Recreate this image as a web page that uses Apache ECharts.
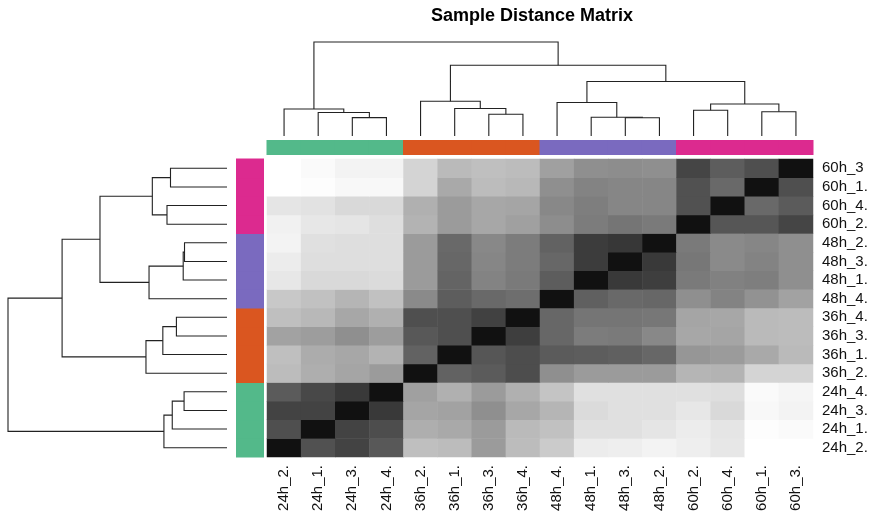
<!DOCTYPE html>
<html>
<head>
<meta charset="utf-8">
<title>Sample Distance Matrix</title>
<script src="https://cdn.jsdelivr.net/npm/echarts@6/dist/echarts.min.js"></script>
<style>
  html, body { margin: 0; padding: 0; background: #fff; }
  #chart { width: 873px; height: 516px; }
</style>
</head>
<body>
<div id="chart"></div>
<script>
// samples in leaf order (left -> right on top, bottom -> top on the side)
var colLabels = ['24h_2.', '24h_1.', '24h_3.', '24h_4.', '36h_2.', '36h_1.', '36h_3.', '36h_4.',
                 '48h_4.', '48h_1.', '48h_3.', '48h_2.', '60h_2.', '60h_4.', '60h_1.', '60h_3.'];
var rowLabels = ['24h_2.', '24h_1.', '24h_3.', '24h_4.', '36h_2.', '36h_1.', '36h_3.', '36h_4.',
                 '48h_4.', '48h_1.', '48h_3.', '48h_2.', '60h_2.', '60h_4.', '60h_1.', '60h_3'];

// annotation groups and their colours
var groupNames = ['24h', '36h', '48h', '60h'];
var groupColors = ['#53b98a', '#da5620', '#7a6abf', '#dc2a8f'];

// distance matrix (0 = identical, 100 = farthest), rows/cols in leaf order
var distances = [
  [0, 27, 21, 30, 73, 72, 58, 72, 78, 92, 93, 95, 93, 90, 100, 100],
  [26, 0, 21, 25, 66, 64, 58, 71, 74, 87, 87, 89, 92, 89, 99, 98],
  [21, 21, 0, 17, 62, 61, 53, 63, 69, 85, 87, 87, 90, 84, 97, 95],
  [31, 23, 17, 0, 60, 67, 58, 67, 75, 87, 87, 87, 87, 86, 98, 96],
  [72, 66, 62, 58, 0, 34, 31, 25, 53, 58, 58, 58, 69, 68, 82, 82],
  [73, 65, 63, 68, 34, 0, 29, 25, 31, 32, 33, 36, 56, 58, 64, 71],
  [61, 59, 53, 59, 30, 26, 0, 19, 36, 45, 44, 50, 63, 62, 71, 72],
  [73, 70, 63, 67, 26, 26, 20, 0, 36, 42, 42, 43, 62, 63, 71, 72],
  [77, 74, 69, 74, 51, 32, 37, 39, 0, 33, 37, 36, 53, 48, 54, 61],
  [90, 84, 84, 85, 58, 35, 48, 44, 32, 0, 17, 19, 44, 47, 46, 53],
  [92, 86, 86, 86, 58, 36, 49, 45, 36, 18, 0, 17, 43, 51, 48, 53],
  [95, 87, 86, 86, 58, 37, 50, 45, 34, 18, 16, 0, 44, 51, 49, 53],
  [94, 90, 89, 86, 68, 58, 63, 60, 52, 45, 42, 44, 0, 29, 29, 22],
  [89, 88, 84, 84, 67, 58, 63, 62, 50, 46, 49, 49, 27, 0, 37, 31],
  [100, 99, 97, 97, 82, 64, 72, 70, 53, 48, 49, 49, 27, 37, 0, 26],
  [100, 98, 95, 95, 82, 71, 73, 72, 60, 53, 52, 53, 22, 32, 26, 0]
];

// clustering: [child a, child b, merge height]; leaves are 0..15, merge k becomes node 16 + k
var merges = [
  [2, 3, 19.6],
  [1, 16, 25.0],
  [0, 17, 28.8],
  [6, 7, 23.1],
  [5, 19, 29.3],
  [4, 20, 37.0],
  [10, 11, 19.4],
  [9, 22, 20.0],
  [8, 23, 35.6],
  [12, 13, 27.4],
  [14, 15, 25.8],
  [25, 26, 34.1],
  [24, 27, 58.0],
  [21, 28, 75.3],
  [18, 29, 100]
];

var n = colLabels.length;

// heatmap cells
var cells = [];
for (var i = 0; i < n; i++) {
  for (var j = 0; j < n; j++) {
    cells.push([j, i, distances[i][j]]);
  }
}

// dendrogram links: [pos a, height a, pos b, height b, merge height]
var pos = [], hgt = [], links = [];
for (var k = 0; k < n; k++) { pos.push(k); hgt.push(0); }
merges.forEach(function (m) {
  links.push([pos[m[0]], hgt[m[0]], pos[m[1]], hgt[m[1]], m[2]]);
  pos.push((pos[m[0]] + pos[m[1]]) / 2);
  hgt.push(m[2]);
});

// annotation cells: [leaf index, group index]
var annot = colLabels.map(function (s, idx) {
  return [idx, groupNames.indexOf(s.substring(0, 3))];
});

function dendroItem(sideways) {
  return function (params, api) {
    var a = api.value(0), ha = api.value(1), b = api.value(2), hb = api.value(3), h = api.value(4);
    var pt = function (p, v) { return sideways ? api.coord([v, p]) : api.coord([p, v]); };
    return {
      type: 'polyline',
      shape: { points: [pt(a, ha), pt(a, h), pt(b, h), pt(b, hb)] },
      style: { stroke: '#222', lineWidth: 1.1, fill: null }
    };
  };
}

// one coloured block per leaf, slightly overlapping so no seams show
function annotItem(sideways) {
  return function (params, api) {
    var idx = api.value(0);
    var color = groupColors[api.value(1)];
    var p0 = sideways ? api.coord([0, idx - 0.5]) : api.coord([idx - 0.5, 0]);
    var p1 = sideways ? api.coord([1, idx + 0.5]) : api.coord([idx + 0.5, 1]);
    var x = Math.min(p0[0], p1[0]), y = Math.min(p0[1], p1[1]);
    var w = Math.abs(p1[0] - p0[0]), h = Math.abs(p1[1] - p0[1]);
    if (sideways) { y -= 0.5; h += 1; } else { x -= 0.5; w += 1; }
    return {
      type: 'rect',
      shape: { x: x, y: y, width: w, height: h },
      style: { fill: color }
    };
  };
}

var font = 'Liberation Sans, Arial, sans-serif';
var chart = echarts.init(document.getElementById('chart'));

var option = {
  animation: false,
  textStyle: { fontFamily: font },
  title: {
    text: 'Sample Distance Matrix',
    left: 431,
    top: 7,
    padding: 0,
    textStyle: { fontSize: 18, fontWeight: 'bold', color: '#000', fontFamily: font }
  },
  grid: [
    { left: 267, top: 159, width: 546, height: 298 },   // heatmap
    { left: 267, top: 42, width: 546, height: 94 },     // top dendrogram
    { left: 8, top: 159, width: 219, height: 298 },     // left dendrogram
    { left: 267, top: 140, width: 546, height: 15 },    // top annotation
    { left: 236, top: 159, width: 28, height: 298 }     // left annotation
  ],
  xAxis: [
    {
      gridIndex: 0, type: 'category', data: colLabels, position: 'bottom',
      axisLine: { show: false }, axisTick: { show: false }, splitLine: { show: false },
      axisLabel: { rotate: 90, margin: 8, fontSize: 15, color: '#111', fontFamily: font, interval: 0 }
    },
    { gridIndex: 1, type: 'value', min: -0.5, max: n - 0.5, show: false },
    { gridIndex: 2, type: 'value', min: 0, max: 100, inverse: true, show: false },
    { gridIndex: 3, type: 'value', min: -0.5, max: n - 0.5, show: false },
    { gridIndex: 4, type: 'value', min: 0, max: 1, show: false }
  ],
  yAxis: [
    {
      gridIndex: 0, type: 'category', data: rowLabels, position: 'right',
      axisLine: { show: false }, axisTick: { show: false }, splitLine: { show: false },
      axisLabel: { margin: 9, fontSize: 15, color: '#111', fontFamily: font, interval: 0 }
    },
    { gridIndex: 1, type: 'value', min: 0, max: 100, show: false },
    { gridIndex: 2, type: 'value', min: -0.5, max: n - 0.5, show: false },
    { gridIndex: 3, type: 'value', min: 0, max: 1, show: false },
    { gridIndex: 4, type: 'value', min: -0.5, max: n - 0.5, show: false }
  ],
  visualMap: {
    show: false,
    seriesIndex: 0,
    min: 0,
    max: 100,
    inRange: { color: ['#111111', '#ffffff'] }
  },
  series: [
    { type: 'heatmap', xAxisIndex: 0, yAxisIndex: 0, data: cells, silent: true },
    { type: 'custom', xAxisIndex: 1, yAxisIndex: 1, data: links, renderItem: dendroItem(false), silent: true },
    { type: 'custom', xAxisIndex: 2, yAxisIndex: 2, data: links, renderItem: dendroItem(true), silent: true },
    { type: 'custom', xAxisIndex: 3, yAxisIndex: 3, data: annot, renderItem: annotItem(false), silent: true },
    { type: 'custom', xAxisIndex: 4, yAxisIndex: 4, data: annot, renderItem: annotItem(true), silent: true }
  ]
};

chart.setOption(option);
</script>
</body>
</html>
